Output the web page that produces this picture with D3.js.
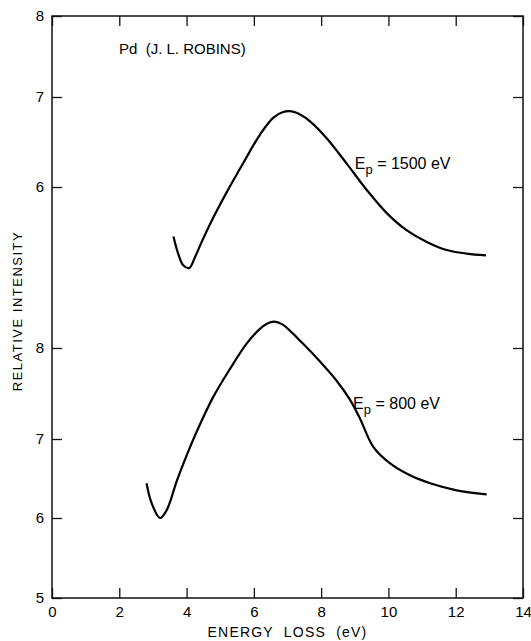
<!DOCTYPE html>
<html>
<head>
<meta charset="utf-8">
<script src="https://cdn.jsdelivr.net/npm/d3@7"></script>
<style>
  body { margin: 0; background: #fff; }
  svg { display: block; font-family: "Liberation Sans", Arial, sans-serif; }
  .axis path { display: none; }
  .axis line { stroke: #111; stroke-width: 1.3; }
  .axis text { font-size: 15px; fill: #000; }
</style>
</head>
<body>
<div id="chart"></div>
<script>
// energy loss tick labels
const energyTicks = [0, 2, 4, 6, 8, 10, 12, 14];
// the upper curve uses its own intensity scale, the lower one another
const upperTicks = [6, 7, 8];
const lowerTicks = [5, 6, 7, 8];

// Ep = 1500 eV
const loss1500 = [3.61, 3.75, 3.90, 4.08, 4.25, 4.45, 4.70, 5.19, 5.69, 6.18, 6.58, 6.85, 7.13, 7.40, 7.67, 8.17, 8.76, 9.35, 9.95, 10.54, 11.14, 11.73, 12.33, 12.90];
const int1500  = [5.45, 5.26, 5.13, 5.10, 5.22, 5.39, 5.59, 5.94, 6.27, 6.58, 6.77, 6.83, 6.84, 6.80, 6.73, 6.54, 6.26, 5.97, 5.71, 5.52, 5.39, 5.30, 5.26, 5.24];

// Ep = 800 eV
const loss800 = [2.81, 2.96, 3.21, 3.41, 3.71, 4.00, 4.30, 4.79, 5.29, 5.79, 6.18, 6.40, 6.60, 6.85, 7.10, 7.40, 7.87, 8.46, 8.86, 9.16, 9.55, 10.05, 10.64, 11.24, 12.03, 12.92];
const int800  = [6.44, 6.19, 6.00, 6.10, 6.47, 6.79, 7.08, 7.46, 7.77, 8.05, 8.21, 8.27, 8.29, 8.26, 8.18, 8.07, 7.89, 7.64, 7.43, 7.22, 6.90, 6.69, 6.54, 6.44, 6.35, 6.30];

const width = 531, height = 641;
const left = 52, right = 523;

const svg = d3.select("#chart").append("svg")
    .attr("width", width)
    .attr("height", height);

const x = d3.scaleLinear().domain([0, 14]).range([left, right]);

// hand drawn scales are not quite even, so piecewise
const yUpper = d3.scaleLinear().domain(upperTicks).range([187, 97, 16]);
const yLower = d3.scaleLinear().domain(lowerTicks).range([598, 518, 439, 348]);

const frameTop = yUpper(8), frameBottom = yLower(5);

// frame
svg.append("rect")
    .attr("x", left)
    .attr("y", frameTop)
    .attr("width", right - left)
    .attr("height", frameBottom - frameTop)
    .attr("fill", "none")
    .attr("stroke", "#111")
    .attr("stroke-width", 1.5);

// bottom axis
svg.append("g")
    .attr("class", "axis")
    .attr("transform", `translate(0,${frameBottom})`)
    .call(d3.axisBottom(x).tickValues(energyTicks).tickSize(-10).tickPadding(8));

// top axis, ticks only
svg.append("g")
    .attr("class", "axis")
    .attr("transform", `translate(0,${frameTop})`)
    .call(d3.axisTop(x).tickValues(energyTicks).tickSize(-10).tickFormat(""));

// left axes
svg.append("g")
    .attr("class", "axis")
    .attr("transform", `translate(${left},0)`)
    .call(d3.axisLeft(yUpper).tickValues(upperTicks).tickSize(-10).tickPadding(8).tickFormat(d3.format("d")));

svg.append("g")
    .attr("class", "axis")
    .attr("transform", `translate(${left},0)`)
    .call(d3.axisLeft(yLower).tickValues(lowerTicks).tickSize(-10).tickPadding(8).tickFormat(d3.format("d")));

// right side ticks
svg.append("g")
    .attr("class", "axis")
    .attr("transform", `translate(${right},0)`)
    .call(d3.axisRight(yUpper).tickValues(upperTicks).tickSize(-10).tickFormat(""));

svg.append("g")
    .attr("class", "axis")
    .attr("transform", `translate(${right},0)`)
    .call(d3.axisRight(yLower).tickValues(lowerTicks).tickSize(-10).tickFormat(""));

// curves
function drawCurve(xs, ys, yScale) {
  const pts = xs.map((d, i) => [d, ys[i]]);
  const line = d3.line()
      .x(d => x(d[0]))
      .y(d => yScale(d[1]))
      .curve(d3.curveCatmullRom.alpha(0.5));
  svg.append("path")
      .datum(pts)
      .attr("d", line)
      .attr("fill", "none")
      .attr("stroke", "#000")
      .attr("stroke-width", 2.2)
      .attr("stroke-linejoin", "round");
}
drawCurve(loss1500, int1500, yUpper);
drawCurve(loss800, int800, yLower);

// curve labels
function epLabel(xPos, yPos, value) {
  const t = svg.append("text")
      .attr("x", xPos)
      .attr("y", yPos)
      .attr("font-size", 16)
      .attr("fill", "#000");
  t.append("tspan").text("E");
  t.append("tspan").attr("dy", 5).attr("font-size", 13).text("p");
  t.append("tspan").attr("dy", -5).text(" = " + value + " eV");
}
epLabel(x(9.0), yUpper(6.2), "1500");
epLabel(x(8.95), yLower(7.33), "800");

svg.append("text")
    .attr("x", 119)
    .attr("y", 54)
    .attr("font-size", 15)
    .attr("fill", "#000")
    .style("white-space", "pre")
    .text("Pd  (J. L. ROBINS)");

// axis titles
svg.append("text")
    .attr("x", (left + right) / 2)
    .attr("y", 637)
    .attr("text-anchor", "middle")
    .attr("font-size", 14)
    .attr("letter-spacing", 1.2)
    .attr("fill", "#000")
    .style("white-space", "pre")
    .text("ENERGY  LOSS  (eV)");

svg.append("text")
    .attr("transform", "translate(22,311) rotate(-90)")
    .attr("text-anchor", "middle")
    .attr("font-size", 13)
    .attr("letter-spacing", 1.5)
    .attr("fill", "#000")
    .text("RELATIVE INTENSITY");
</script>
</body>
</html>
